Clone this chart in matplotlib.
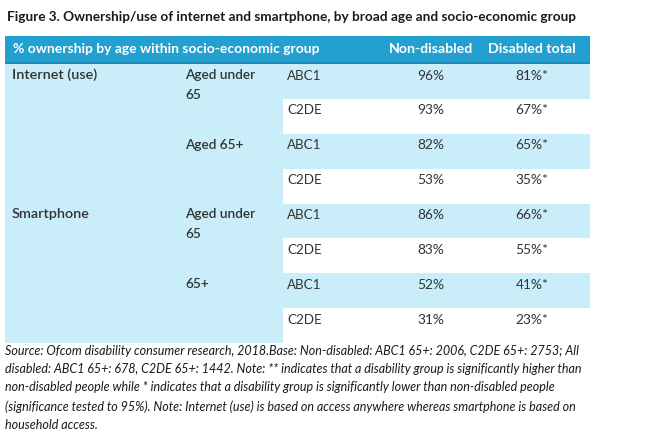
import matplotlib
matplotlib.use("Agg")
import matplotlib.pyplot as plt
from matplotlib.patches import Rectangle

title = "Figure 3. Ownership/use of internet and smartphone, by broad age and socio-economic group"
header = ["% ownership by age within socio-economic group", "Non-disabled", "Disabled total"]
measures = ["Internet (use)", "Smartphone"]
age_groups = ["Aged under\n65", "Aged 65+", "Aged under\n65", "65+"]
segments = ["ABC1", "C2DE", "ABC1", "C2DE", "ABC1", "C2DE", "ABC1", "C2DE"]
non_disabled = [96, 93, 82, 53, 86, 83, 52, 31]
disabled_total = [81, 67, 65, 35, 66, 55, 41, 23]
disabled_flag = ["*", "*", "*", "*", "*", "*", "*", "*"]
footnote = ("Source: Ofcom disability consumer research, 2018.Base: Non-disabled: ABC1 65+: 2006, C2DE 65+: 2753; All\n"
            "disabled: ABC1 65+: 678, C2DE 65+: 1442. Note: ** indicates that a disability group is significantly higher than\n"
            "non-disabled people while * indicates that a disability group is significantly lower than non-disabled people\n"
            "(significance tested to 95%). Note: Internet (use) is based on access anywhere whereas smartphone is based on\n"
            "household access.")

W, H = 648, 442
fig = plt.figure(figsize=(W / 100, H / 100), dpi=100)
ax = fig.add_axes([0, 0, 1, 1])
ax.set_xlim(0, W)
ax.set_ylim(H, 0)
ax.axis("off")

FONT = "Lato"
DARK = "#333333"
HEAD = "#23A0CF"
HEAD_LINE = "#1B8DB8"
LIGHT = "#C9EEFA"

# Title
ax.text(7, 17, title, fontsize=9.8, fontweight="bold", family=FONT, color="#1a1a1a",
        va="center", ha="left")

# Header
x0, x1 = 5, 590
hy0, hy1 = 36, 64
ax.add_patch(Rectangle((x0, hy0), x1 - x0, hy1 - hy0, color=HEAD, lw=0))
ax.add_patch(Rectangle((x0, hy1 - 2), x1 - x0, 2, color=HEAD_LINE, lw=0))
ax.text(13, 49, header[0], fontsize=10.0, fontweight="bold", family=FONT, color="white", va="center")
col_nd, col_dt = 431, 532
ax.text(col_nd, 49, header[1], fontsize=10.2, fontweight="bold", family=FONT, color="white", va="center", ha="center")
ax.text(col_dt, 49, header[2], fontsize=10.2, fontweight="bold", family=FONT, color="white", va="center", ha="center")

# Body
body_top, body_bot = 64, 343
n = len(segments)
rh = (body_bot - body_top) / n
split = 283
ax.add_patch(Rectangle((x0, body_top), split - x0, body_bot - body_top, color=LIGHT, lw=0))
for i in range(n):
    y = body_top + i * rh
    if i % 2 == 0:
        ax.add_patch(Rectangle((split, y), x1 - split, rh, color=LIGHT, lw=0))
    ty = y + 11.5
    ax.text(287, ty, segments[i], fontsize=9.6, family=FONT, color=DARK, va="center")
    ax.text(col_nd, ty, f"{non_disabled[i]}%", fontsize=9.9, family=FONT, color=DARK, va="center", ha="center")
    ax.text(col_dt, ty, f"{disabled_total[i]}%{disabled_flag[i]}", fontsize=9.9, family=FONT, color=DARK,
            va="center", ha="center")

for j, m in enumerate(measures):
    y = body_top + j * 4 * rh + 11
    ax.text(12, y, m, fontsize=10.4, family=FONT, fontweight="semibold", color=DARK, va="center")
for k, a in enumerate(age_groups):
    y = body_top + k * 2 * rh + 11
    lines = a.split("\n")
    for li, t in enumerate(lines):
        ax.text(185, y + li * 20, t, fontsize=9.8, family=FONT, fontweight="semibold", color=DARK,
                va="center")

ax.text(5, 345, footnote, fontsize=9.0, family=FONT, style="italic", color="#1a1a1a",
        va="top", ha="left", linespacing=1.62)

fig.savefig("out.png", dpi=100)
